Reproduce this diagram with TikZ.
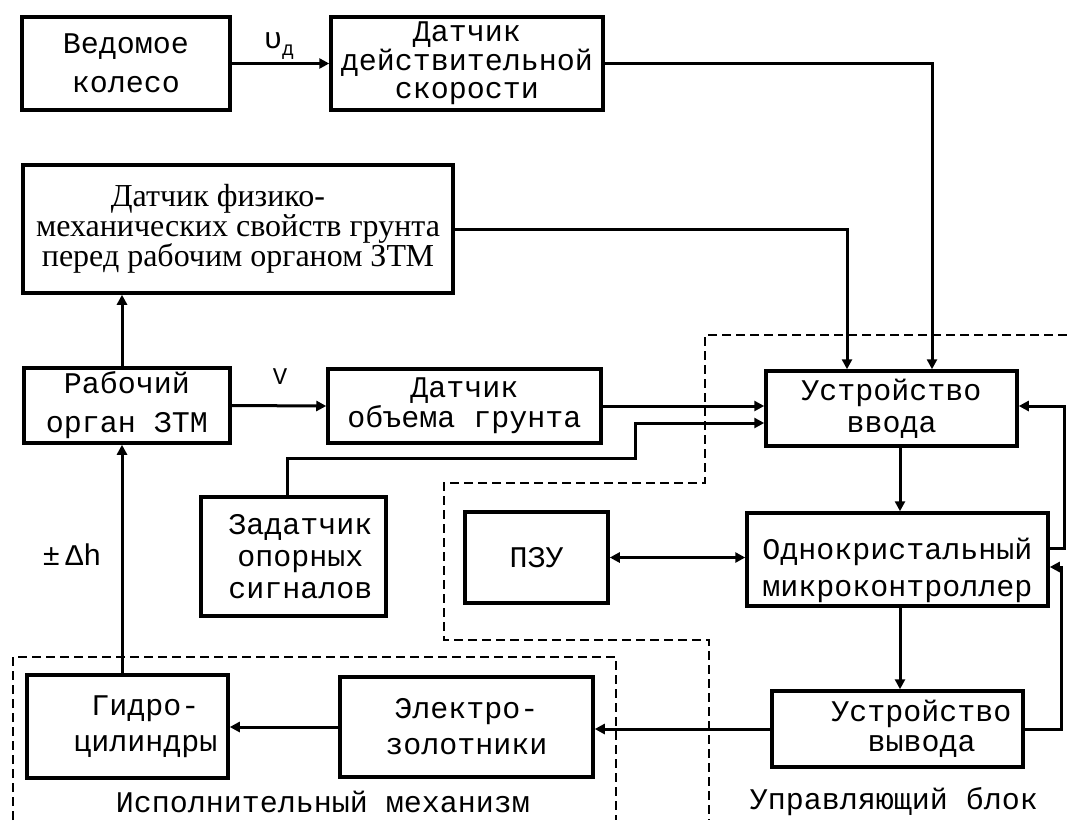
\documentclass[tikz,border=0pt]{standalone}
\usepackage{fontspec}
\setmainfont{Liberation Mono}
\newfontfamily\serfont{Liberation Serif}
\usetikzlibrary{arrows.meta}
\newcommand\myfs[1]{\fontsize{30}{#1}\selectfont}
\begin{document}
\begin{tikzpicture}[x=1pt,y=-1pt,
  box/.style={draw, line width=3.5pt, rectangle, inner sep=0pt, align=center},
  conn/.style={line width=3pt, -{Triangle[length=10pt,width=10pt]}},
  dconn/.style={line width=3pt, {Triangle[length=10pt,width=10pt]}-{Triangle[length=10pt,width=10pt]}},
  grp/.style={line width=1.8pt, dash pattern=on 9pt off 5pt},
  lbl/.style={inner sep=0pt}]
\useasboundingbox (0,0) rectangle (1067,820);

% boxes
\node[box, minimum width=208pt, minimum height=93pt, font=\myfs{39}] (ved) at (126,63.5) {Ведомое\\колесо};
\node[box, minimum width=272pt, minimum height=93pt, font=\myfs{28.5}] (dds) at (467,63.5) {Датчик\\действительной\\скорости};
\node[box, minimum width=430pt, minimum height=128pt, font=\serfont\fontsize{32}{30}\selectfont] (dfm) at (238,229) {Датчик физико-\hspace*{40pt}\\механических свойств грунта\\перед рабочим органом ЗТМ};
\node[box, minimum width=206pt, minimum height=75pt, font=\myfs{39}] (rab) at (127,405.5) {Рабочий\\орган ЗТМ};
\node[box, minimum width=273pt, minimum height=74pt, font=\myfs{30}] (dob) at (464.5,406) {Датчик\\объема грунта};
\node[box, minimum width=251pt, minimum height=75pt, font=\myfs{32}] (uvv) at (891.5,408.5) {Устройство\\ввода};
\node[box, minimum width=185pt, minimum height=119pt, font=\myfs{32}] (zad) at (293.5,556.5) {\hspace*{14pt}Задатчик\\\hspace*{14pt}опорных\\\hspace*{14pt}сигналов};
\node[box, minimum width=143pt, minimum height=91pt, font=\myfs{30}] (pzu) at (536.5,557.5) {ПЗУ};
\node[box, minimum width=301pt, minimum height=93pt, font=\myfs{37}] (mk) at (897.5,559.5) {\rule{0pt}{44pt}Однокристальный\\микроконтроллер};
\node[box, minimum width=251pt, minimum height=76pt, font=\myfs{30}] (uvy) at (897.5,729) {\hspace*{48pt}Устройство\\\hspace*{48pt}вывода};
\node[box, minimum width=201pt, minimum height=103pt, font=\myfs{36}] (gid) at (127.5,726.5) {\hspace*{36pt}Гидро-\\\hspace*{36pt}цилиндры};
\node[box, minimum width=253pt, minimum height=100pt, font=\myfs{36}] (el) at (466.5,727) {Электро-\\золотники};

% labels
\node[lbl, font=\myfs{30}] (lu) at (279,46) {υ\raisebox{-7pt}{\fontsize{20}{20}\selectfont д}};
\node[lbl, font=\fontsize{24}{24}\selectfont] (lv) at (280,377) {V};
\node[lbl, font=\myfs{30}] (ldh) at (72,555) {±\,Δh};
\node[lbl, font=\myfs{30}] (gl1) at (323,802) {Исполнительный механизм};
\node[lbl, font=\myfs{30}] (gl2) at (894,802) {Управляющий блок};

% group borders
\draw[grp] (1067,335) -- (705,335) -- (705,483) -- (444,483) -- (444,640) -- (709,640) -- (709,820);
\draw[grp] (13,820) -- (13,657) -- (616,657) -- (616,820);

% connectors
\coordinate (j1) at (635,458);
\draw[conn] (ved.east) -- (dds.west);
\draw[conn] (dds.east) -| ([xshift=40.5pt]uvv.north);
\draw[conn] (dfm.east) -| ([xshift=-44.5pt]uvv.north);
\draw[conn] ([xshift=-5pt]rab.north) -- ([xshift=-5pt]rab.north |- dfm.south);
\draw[conn] (rab.east) -- (dob.west);
\draw[conn] (dob.east) -- (dob.east -| uvv.west);
\draw[conn] ([xshift=-6.5pt]zad.north) |- (j1) |- ([yshift=-14.5pt]uvv.west);
\draw[conn] ([xshift=2.5pt]mk.north |- uvv.south) -- ([xshift=2.5pt]mk.north);
\draw[dconn] (pzu.east) -- (pzu.east -| mk.west);
\draw[conn] ([yshift=11.5pt]mk.east) -- ++(15,0) |- ([yshift=2.5pt]uvv.east);
\draw[conn] (uvy.east) -- ++(37,0) |- ([yshift=-7.5pt]mk.east);
\draw[conn] ([xshift=2.5pt]mk.south) -- ([xshift=2.5pt]mk.south |- uvy.north);
\draw[conn] (uvy.west) -- (uvy.west -| el.east);
\draw[conn] (el.west) -- (el.west -| gid.east);
\draw[conn] ([xshift=-5.5pt]gid.north) -- ([xshift=-5.5pt]gid.north |- rab.south);
\end{tikzpicture}
\end{document}
